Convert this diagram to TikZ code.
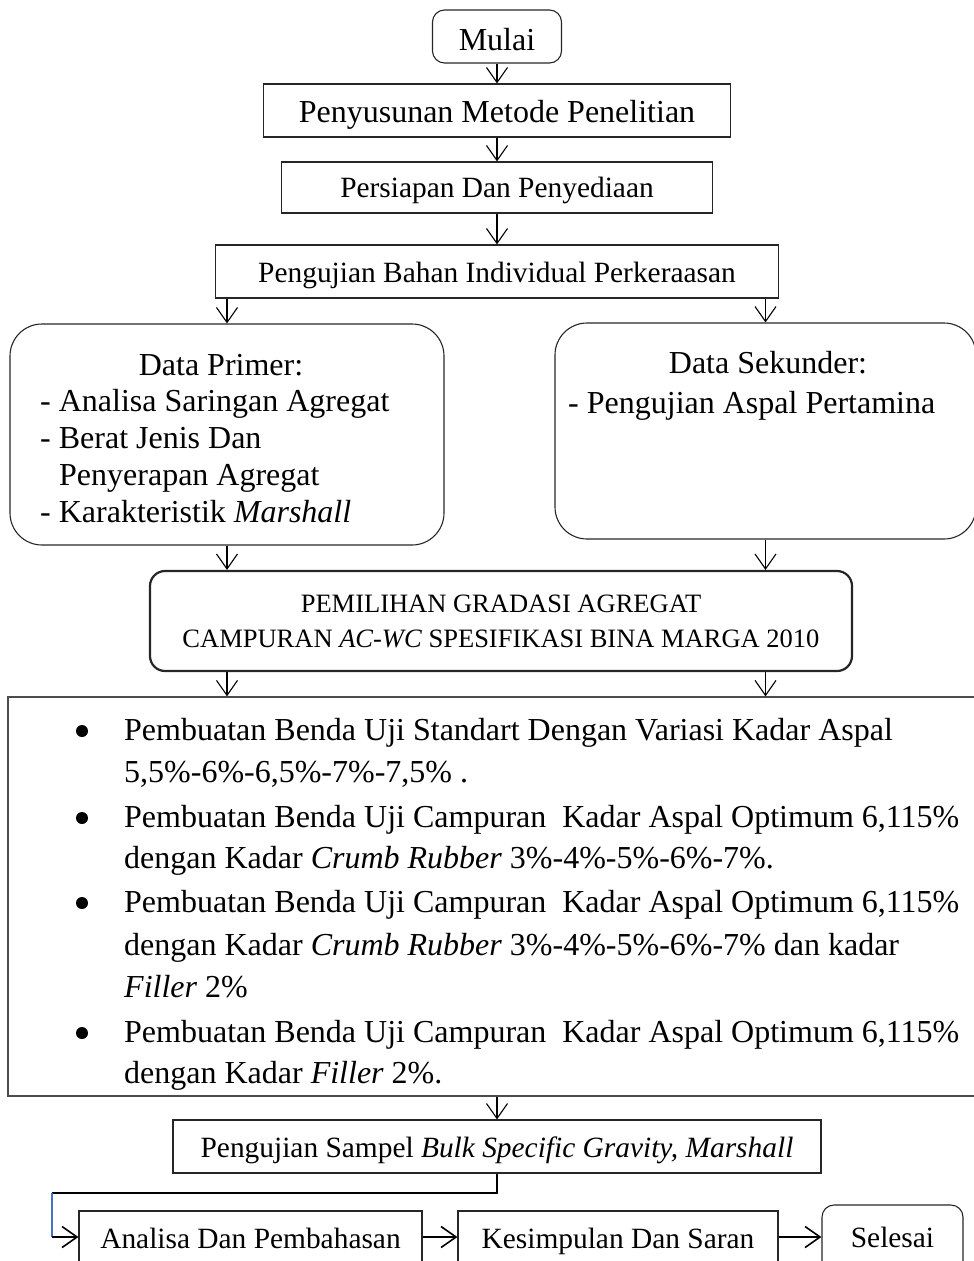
\documentclass[tikz,border=0pt]{standalone}
\usepackage{fontspec}
\setmainfont{Liberation Serif}
\usetikzlibrary{arrows.meta}
\definecolor{linkblue}{RGB}{68,114,196}
\begin{document}
\begin{tikzpicture}[x=1pt,y=-1pt,>={Straight Barb[length=15pt,width=21pt]},
  box/.style={draw=black!85,line width=1.1pt,inner sep=0pt},
  rbox/.style={box,rounded corners=12pt},
  lift/.style={text height=#1,text depth=0pt},
  fbig/.style={font=\fontsize{32}{38}\selectfont},
  fmid/.style={font=\fontsize{29.4}{35}\selectfont},
  fsmall/.style={font=\fontsize{26.5}{35}\selectfont},
  txt/.style={anchor=base west,inner sep=0pt},
  flow/.style={->,line width=1.1pt}]
\path[use as bounding box] (0,0) rectangle (974,1261);
\clip (0,0) rectangle (974,1261);
% main column
\node[rbox,fbig,lift=27pt,minimum width=129,minimum height=53] (mulai) at (497,36.5) {Mulai};
\node[box,fbig,lift=23pt,minimum width=467,minimum height=53] (metode) at (497,110.5) {Penyusunan Metode Penelitian};
\node[box,fmid,lift=19pt,minimum width=431,minimum height=51] (siap) at (497,187.5) {Persiapan Dan Penyediaan};
\node[box,fmid,lift=21pt,minimum width=563,minimum height=53] (bahan) at (497,271.5) {Pengujian Bahan Individual Perkeraasan};
% data boxes
\node[box,rounded corners=32pt,minimum width=434,minimum height=221] (primer) at (227,434.5) {};
\node[box,rounded corners=32pt,minimum width=421,minimum height=216] (sekunder) at (765.5,431) {};
\node[fbig,inner sep=0pt,anchor=base] (primerhead) at (221,375) {Data Primer:};
\foreach \y/\t [count=\i] in {411/{- Analisa Saringan Agregat},448/{- Berat Jenis Dan},
    485/{\hspace*{19pt}Penyerapan Agregat},522/{- Karakteristik \textit{Marshall}}}
  \node[fbig,txt] (primer\i) at (40,\y) {\t};
\node[fbig,inner sep=0pt,anchor=base] (sekhead) at (768,373) {Data Sekunder:};
\node[fbig,txt] (sekunder1) at (568,413) {- Pengujian Aspal Pertamina};
\node[box,line width=2.2pt,rounded corners=15pt,fsmall,align=center,minimum width=702,minimum height=100] (gradasi) at (501,621)
  {PEMILIHAN GRADASI AGREGAT\\CAMPURAN \textit{AC-WC} SPESIFIKASI BINA MARGA 2010};
% test specimens
\node[box,draw=black!70,line width=1.3pt,minimum width=980,minimum height=399] (uji) at (498,896.5) {};
\foreach \y [count=\i] in {740,827,912,1042}
  \node[circle,fill,inner sep=0pt,minimum size=12] (dot\i) at (82,\y-9) {};
\foreach \y/\t [count=\i] in {
    740/{Pembuatan Benda Uji Standart Dengan Variasi Kadar Aspal},
    782/{5,5\%-6\%-6,5\%-7\%-7,5\% .},
    827/{Pembuatan Benda Uji Campuran\ \ Kadar Aspal Optimum 6,115\%},
    868/{dengan Kadar \textit{Crumb Rubber} 3\%-4\%-5\%-6\%-7\%.},
    912/{Pembuatan Benda Uji Campuran\ \ Kadar Aspal Optimum 6,115\%},
    955/{dengan Kadar \textit{Crumb Rubber} 3\%-4\%-5\%-6\%-7\% dan kadar},
    997/{\textit{Filler} 2\%},
    1042/{Pembuatan Benda Uji Campuran\ \ Kadar Aspal Optimum 6,115\%},
    1083/{dengan Kadar \textit{Filler} 2\%.}}
  \node[fbig,txt] (item\i) at (124,\y) {\t};
\node[box,fmid,lift=21pt,minimum width=648,minimum height=53] (sampel) at (497,1146.5)
  {Pengujian Sampel \textit{Bulk Specific Gravity, Marshall}};
% last row
\node[box,fmid,lift=16pt,minimum width=343,minimum height=59] (analisa) at (250.5,1240.5) {Analisa Dan Pembahasan};
\node[box,fmid,lift=16pt,minimum width=320,minimum height=59] (kesimpulan) at (618,1240.5) {Kesimpulan Dan Saran};
\node[rbox,fmid,lift=15pt,minimum width=141,minimum height=70] (selesai) at (892.5,1240) {Selesai};
\coordinate (turn1) at (52,1193);
\coordinate (turn2) at (52,1237);
% arrows
\draw[flow] (mulai.south) -- (metode.north);
\draw[flow] (metode.south) -- (siap.north);
\draw[flow] (siap.south) -- (bahan.north);
\draw[flow] (bahan.south -| primer.north) -- (primer.north);
\draw[flow] (bahan.south -| sekunder.north) -- (sekunder.north);
\draw[flow] (primer.south) -- (gradasi.north -| primer.south);
\draw[flow] (sekunder.south) -- (gradasi.north -| sekunder.south);
\draw[flow] (gradasi.south -| primer.south) -- (uji.north -| primer.south);
\draw[flow] (gradasi.south -| sekunder.south) -- (uji.north -| sekunder.south);
\draw[flow] (uji.south -| sampel.north) -- (sampel.north);
\draw[line width=2pt] (sampel.south) |- (turn1);
\draw[linkblue,line width=1.5pt] (turn1) -- (turn2);
\draw[flow,line width=1.6pt] (turn2) -- (analisa.west |- turn2);
\draw[flow,line width=1.6pt] (analisa.east |- turn2) -- (kesimpulan.west |- turn2);
\draw[flow,line width=1.6pt] (kesimpulan.east |- turn2) -- (selesai.west |- turn2);
\end{tikzpicture}
\end{document}
